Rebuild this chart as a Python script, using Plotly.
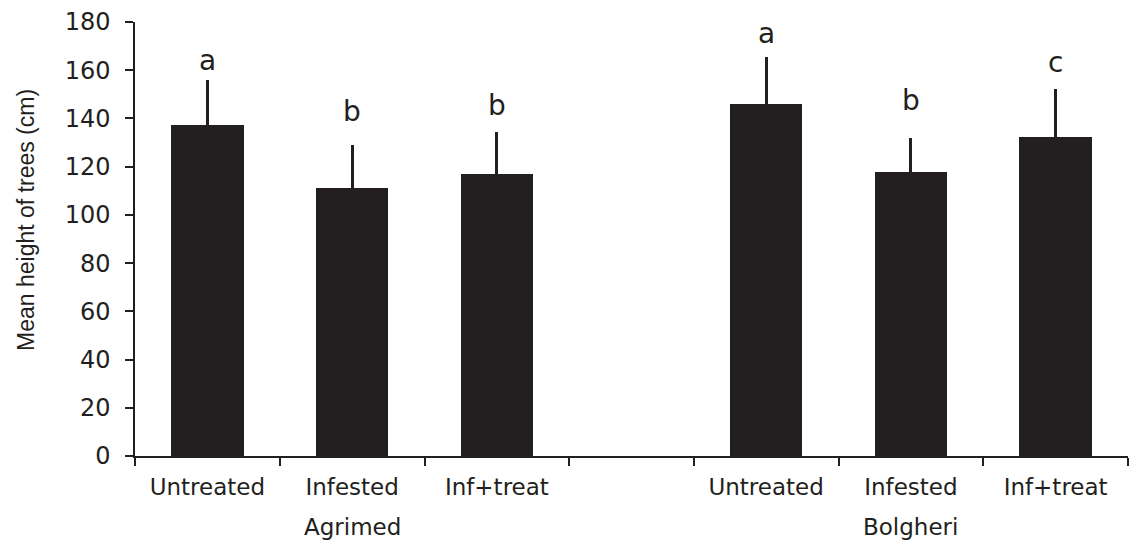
import plotly.graph_objects as go

# ---- data ----
groups = ["Agrimed", "Bolgheri"]
treatments = ["Untreated", "Infested", "Inf+treat"]
agrimed_mean = [137.2, 111.0, 116.8]
agrimed_err = [18.6, 17.8, 17.5]
bolgheri_mean = [145.9, 117.9, 132.4]
bolgheri_err = [19.7, 13.9, 19.7]
agrimed_letters = ["a", "b", "b"]
bolgheri_letters = ["a", "b", "c"]
y_ticks = [0, 20, 40, 60, 80, 100, 120, 140, 160, 180]

# ---- layout helpers ----
INK = "#231f20"
GAP = 0.86  # extra space between the two sites (in bar slots)
n = len(treatments)
x_agr = [i for i in range(n)]
x_bol = [n + GAP + i for i in range(n)]
x_all = x_agr + x_bol
boundaries = [x - 0.5 for x in x_agr] + [x_agr[-1] + 0.5] + [x - 0.5 for x in x_bol] + [x_bol[-1] + 0.5]
x_range = [x_agr[0] - 0.5, x_bol[-1] + 0.5]

means = agrimed_mean + bolgheri_mean
errs = agrimed_err + bolgheri_err
letters = agrimed_letters + bolgheri_letters
# letter heights: just above the error bars, as in the figure
letter_y = [156.4, 135.3, 137.7, 167.6, 139.8, 155.6]

fig = go.Figure()
fig.add_trace(go.Bar(
    x=x_all, y=means, width=0.5,
    marker=dict(color=INK, line=dict(width=0)),
    error_y=dict(type="data", symmetric=False, array=errs, arrayminus=[0] * len(errs),
                 color=INK, thickness=3, width=0),
    showlegend=False, hoverinfo="skip",
))

for x, y, t in zip(x_all, letter_y, letters):
    fig.add_annotation(x=x, y=y, xref="x", yref="y", text=t, showarrow=False,
                       yanchor="bottom", font=dict(family="DejaVu Sans", size=28, color=INK))

group_x = [x_agr[1], x_bol[1]]
for x, g in zip(group_x, groups):
    fig.add_annotation(x=x, y=-0.164, xref="x", yref="paper", text=g, showarrow=False,
                       yanchor="middle", font=dict(family="DejaVu Sans", size=23, color=INK))

fig.add_annotation(x=-0.1098, y=0.5438, xref="paper", yref="paper",
                   text="Mean height of trees (cm)", textangle=-90, showarrow=False,
                   xanchor="center", yanchor="middle",
                   font=dict(family="Liberation Sans", size=23, color=INK))

fig.update_layout(
    width=1132, height=541,
    margin=dict(l=135, r=4, t=22, b=85),
    paper_bgcolor="white", plot_bgcolor="white",
    bargap=0,
    xaxis=dict(
        range=x_range, tickmode="array", tickvals=x_all,
        ticktext=treatments + treatments, ticks="",
        tickfont=dict(family="DejaVu Sans", size=23, color=INK),
        showline=True, linecolor=INK, linewidth=1.5,
        showgrid=False, zeroline=False, ticklabelstandoff=10,
        minor=dict(tickmode="array", tickvals=boundaries, ticks="outside",
                   ticklen=8, tickwidth=1.5, tickcolor=INK, showgrid=False),
    ),
    yaxis=dict(
        range=[0, 180], tickmode="array", tickvals=y_ticks,
        ticks="outside", ticklen=8, tickwidth=1.5, tickcolor=INK,
        tickfont=dict(family="DejaVu Sans", size=24, color=INK),
        showline=True, linecolor=INK, linewidth=1.5,
        showgrid=False, zeroline=False, ticklabelstandoff=10,
    ),
)

fig.write_html("out.html")
